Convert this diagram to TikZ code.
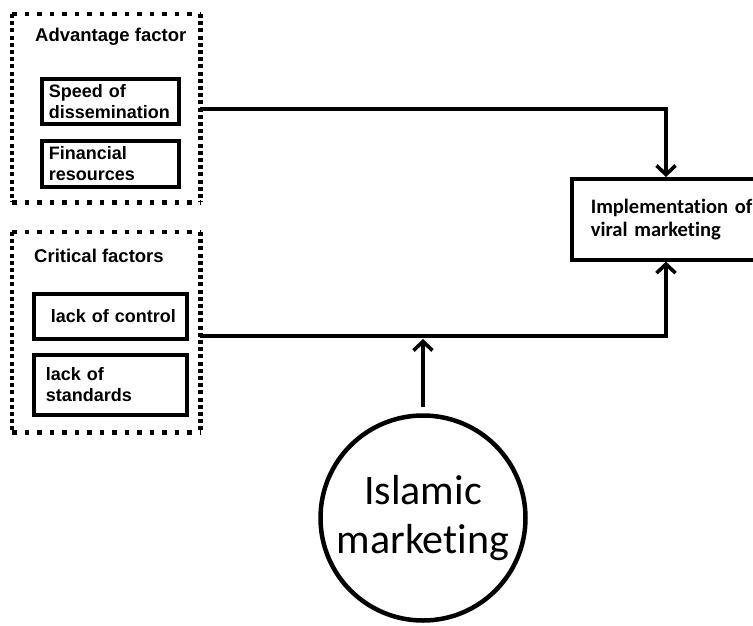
\documentclass[tikz,border=0pt]{standalone}
\usepackage{fontspec}
\setmainfont{Liberation Sans}
\newfontfamily\calibfont{Carlito}[Ligatures=NoCommon]
\usetikzlibrary{positioning}
\usetikzlibrary{arrows.meta}

\begin{document}
\begin{tikzpicture}[x=1pt, y=-1pt,
    group/.style={anchor=north west, inner sep=0pt, minimum width=188pt},
    hdots/.style={line width=4.5pt, dash pattern=on 4.5pt off 8pt},
    vdots/.style={line width=4.5pt, dash pattern=on 4pt off 3.2pt},
    heading/.style={anchor=west, inner sep=0pt, font=\fontsize{18.5}{20}\selectfont\bfseries},
    factorbox/.style={draw, line width=3.6pt, anchor=north west, inner ysep=0pt, align=left, font=\fontsize{18}{21}\selectfont\bfseries},
    link/.style={line width=3.6pt},
    arrow/.style={-{Straight Barb[length=9pt, width=19pt]}}]
    \useasboundingbox (0,0) rectangle (753,625);
    % advantage factor group
    \node[group, minimum height=188pt] (adv) at (12,14) {};
    \draw[hdots] (adv.north west) -- (adv.north east) (adv.south west) -- (adv.south east);
    \draw[vdots] (adv.north west) -- (adv.south west) (adv.north east) -- (adv.south east);
    \node[heading] (advtitle) at (35,37) {Advantage factor};
    \node[factorbox, minimum height=45pt, inner xsep=7pt, text width=123pt] (speed) at (40,77) {Speed of\\dissemination};
    \node[factorbox, minimum height=46pt, inner xsep=7pt, text width=123pt] (finance) at (40,139) {Financial\\resources};
    % critical factors group
    \node[group, minimum height=200pt] (crit) at (12,232) {};
    \draw[hdots] (crit.north west) -- (crit.north east) (crit.south west) -- (crit.south east);
    \draw[vdots] (crit.north west) -- (crit.south west) (crit.north east) -- (crit.south east);
    \node[heading] (crittitle) at (34,256) {Critical factors};
    \node[factorbox, minimum height=45pt, inner xsep=9pt, text width=135pt] (control) at (32,292) {\hspace*{8pt}lack of control};
    \node[factorbox, minimum height=60pt, inner xsep=12pt, text width=129pt] (standards) at (32,353) {lack of\\standards};
    % outcome and islamic marketing
    \node[draw, line width=3.6pt, anchor=north west, minimum height=81pt, inner xsep=19pt, text width=174pt, align=left,
        font=\calibfont\fontsize{20.5}{23.5}\selectfont\bfseries] (impl) at (570,177) {Implementation of\\viral marketing};
    \node[circle, draw, line width=4.5pt, minimum size=205pt, align=center,
        font=\calibfont\fontsize{42}{49}\selectfont] (islam) at (423,518) {Islamic\\marketing};
    \coordinate (advout) at (adv.east |- 0,109);
    \coordinate (critout) at (crit.east |- 0,336);
    \draw[link, arrow] (advout) -| ([xshift=96pt]impl.north west);
    \draw[link, arrow] (critout) -| ([xshift=96pt]impl.south west);
    \draw[link, arrow, shorten <=6pt, shorten >=3pt] (islam.north) -- (islam.north |- critout);
\end{tikzpicture}
\end{document}
